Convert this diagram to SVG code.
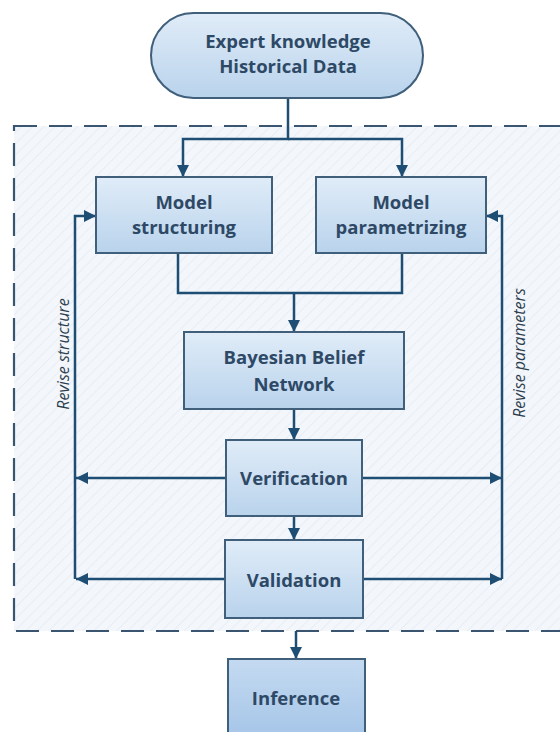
<svg xmlns="http://www.w3.org/2000/svg" width="560" height="732" viewBox="0 0 560 732">
<defs>
<linearGradient id="g" x1="0" y1="0" x2="0" y2="1">
<stop offset="0" stop-color="#e0ecf8"/>
<stop offset="1" stop-color="#b9d3ec"/>
</linearGradient>
<linearGradient id="g2" x1="0" y1="0" x2="0" y2="1">
<stop offset="0" stop-color="#c4daf1"/>
<stop offset="1" stop-color="#a5c5e8"/>
</linearGradient>
<pattern id="hatch" width="8" height="8" patternUnits="userSpaceOnUse" patternTransform="rotate(45)">
<rect width="8" height="8" fill="#f3f6fa"/>
<line x1="0" y1="0" x2="0" y2="8" stroke="#e8eef5" stroke-width="2"/>
</pattern>
<marker id="ah" viewBox="0 0 10 10" markerUnits="userSpaceOnUse" markerWidth="12" markerHeight="12" refX="10" refY="5" orient="auto">
<path d="M0,0 L10,5 L0,10 z" fill="#1f4e75"/>
</marker>
</defs>
<style>
.box{fill:url(#g);stroke:#3f5f7b;stroke-width:2}
.t{font-family:"Open Sans","Liberation Sans",sans-serif;font-weight:bold;font-size:18.5px;fill:#2e4966;text-anchor:middle}
.c{fill:none;stroke:#1f4e75;stroke-width:2.5}
.a{marker-end:url(#ah)}
.lbl{font-family:"Open Sans","Liberation Sans",sans-serif;font-style:italic;font-size:16px;fill:#2c3e50;text-anchor:middle}
</style>
<rect width="560" height="732" fill="#ffffff"/>
<g id="frame">
<rect x="14" y="126" width="600" height="505" fill="url(#hatch)" stroke="#3a5570" stroke-width="2.2" stroke-dasharray="23 12"/>
</g>
<g id="connectors">
<path class="c a" d="M288,98 V139 H183 V177"/>
<path class="c a" d="M288,139 H402 V177"/>
<path class="c" d="M178,253 V293 H402 V253"/>
<path class="c a" d="M294,293 V332"/>
<path class="c a" d="M294,409 V440"/>
<path class="c a" d="M294,516 V540"/>
<path class="c a" d="M226,478 H76"/>
<path class="c a" d="M362,478 H502"/>
<path class="c a" d="M225,579 H76"/>
<path class="c a" d="M363,579 H502"/>
<path class="c a" d="M75,579 V216 H96"/>
<path class="c a" d="M502,579 V216 H486"/>
<path class="c a" d="M296,631 V659"/>
</g>
<g id="labels">
<text class="lbl" transform="translate(69,354) rotate(-90)">Revise structure</text>
<text class="lbl" transform="translate(525,353) rotate(-90)">Revise parameters</text>
</g>
<g id="source">
<rect class="box" x="151" y="13" width="272" height="85" rx="42.5"/>
<text class="t" x="288" y="48">Expert knowledge</text>
<text class="t" x="288" y="73">Historical Data</text>
</g>
<g id="structuring">
<rect class="box" x="96" y="177" width="176" height="76"/>
<text class="t" x="184" y="209">Model</text>
<text class="t" x="184" y="234">structuring</text>
</g>
<g id="parametrizing">
<rect class="box" x="316" y="177" width="170" height="76"/>
<text class="t" x="401" y="209">Model</text>
<text class="t" x="401" y="234">parametrizing</text>
</g>
<g id="bbn">
<rect class="box" x="184" y="332" width="220" height="77"/>
<text class="t" x="294" y="364">Bayesian Belief</text>
<text class="t" x="294" y="391">Network</text>
</g>
<g id="verification">
<rect class="box" x="226" y="440" width="136" height="76"/>
<text class="t" x="294" y="485">Verification</text>
</g>
<g id="validation">
<rect class="box" x="225" y="540" width="138" height="78"/>
<text class="t" x="294" y="587">Validation</text>
</g>
<g id="inference">
<rect class="box" x="228" y="659" width="137" height="80" style="fill:url(#g2)"/>
<text class="t" x="296" y="705">Inference</text>
</g>
</svg>
